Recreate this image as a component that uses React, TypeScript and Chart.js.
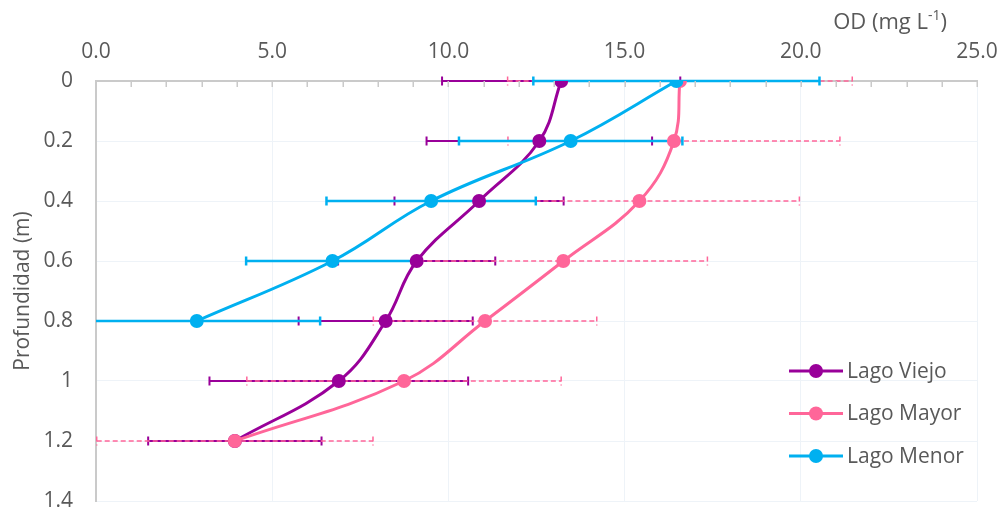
import React, { useEffect, useRef } from 'react';
import { Chart, registerables } from 'chart.js';

Chart.register(...registerables);

// ---- data ----
const depths = [0, 0.2, 0.4, 0.6, 0.8, 1.0, 1.2];
const menorDepths = [0, 0.2, 0.4, 0.6, 0.8];
const seriesNames = ['Lago Viejo', 'Lago Mayor', 'Lago Menor'];
const viejoOD = [13.2, 12.58, 10.87, 9.1, 8.22, 6.89, 3.94];
const viejoErr = [3.38, 3.2, 2.4, 2.23, 2.47, 3.67, 2.46];
const mayorOD = [16.57, 16.4, 15.42, 13.26, 11.04, 8.74, 3.94];
const mayorErr = [4.89, 4.71, 4.54, 4.09, 3.17, 4.46, 3.92];
const menorOD = [16.47, 13.47, 9.51, 6.71, 2.86];
const menorErr = [4.06, 3.17, 2.97, 2.45, 3.5];
const xTitle = 'OD (mg L';
const xTitleSup = '-1';
const xTitleEnd = ')';
const yTitle = 'Profundidad (m)';

// ---- styles ----
const colors = ['#990099', '#FF6699', '#00B0F0'];
const errStyles = [
  { width: 2, dash: [] as number[] },
  { width: 1.5, dash: [5, 3] },
  { width: 2.5, dash: [] as number[] },
];
const FONT = "'Open Sans', sans-serif";
const TEXT = '#595959';
const AXIS = '#CACACA';
const GRID = '#EEF3F8';

const errors = [viejoErr, mayorErr, menorErr];

const errorBarPlugin = {
  id: 'errorBars',
  beforeDatasetsDraw(chart: any) {
    const { ctx, chartArea, scales } = chart;
    ctx.save();
    ctx.beginPath();
    ctx.rect(chartArea.left, chartArea.top - 6, chartArea.right - chartArea.left, chartArea.bottom - chartArea.top + 12);
    ctx.clip();
    chart.data.datasets.forEach((ds: any, i: number) => {
      const errs = errors[i];
      const st = errStyles[i];
      ctx.strokeStyle = ds.borderColor;
      ctx.lineWidth = st.width;
      ctx.setLineDash(st.dash);
      ds.data.forEach((p: any, j: number) => {
        const e = errs[j];
        const y = scales.y.getPixelForValue(p.y);
        const x1 = Math.max(scales.x.getPixelForValue(p.x - e), chartArea.left);
        const x2 = scales.x.getPixelForValue(p.x + e);
        ctx.beginPath();
        ctx.moveTo(x1, y);
        ctx.lineTo(x2, y);
        ctx.stroke();
        [p.x - e, p.x + e].forEach((v) => {
          if (v < 0) return;
          const cx = scales.x.getPixelForValue(v);
          ctx.beginPath();
          ctx.moveTo(cx, y - 4.5);
          ctx.lineTo(cx, y + 4.5);
          ctx.stroke();
        });
      });
    });
    ctx.restore();
  },
};

const axisDecorPlugin = {
  id: 'axisDecor',
  afterDraw(chart: any) {
    const { ctx, chartArea, scales } = chart;
    ctx.save();
    // inward minor ticks on top axis
    ctx.strokeStyle = AXIS;
    ctx.lineWidth = 1.5;
    for (let v = 1; v <= 25; v += 1) {
      const x = Math.round(scales.x.getPixelForValue(v)) + 0.25;
      ctx.beginPath();
      ctx.moveTo(x, chartArea.top);
      ctx.lineTo(x, chartArea.top + 6);
      ctx.stroke();
    }
    // x title with superscript
    ctx.fillStyle = TEXT;
    ctx.textBaseline = 'alphabetic';
    ctx.textAlign = 'left';
    const base = 29;
    ctx.font = `22px ${FONT}`;
    const w1 = ctx.measureText(xTitle).width;
    const w3 = ctx.measureText(xTitleEnd).width;
    ctx.font = `14px ${FONT}`;
    const w2 = ctx.measureText(xTitleSup).width;
    let x = 947 - (w1 + w2 + w3);
    ctx.font = `22px ${FONT}`;
    ctx.fillText(xTitle, x, base);
    x += w1;
    ctx.font = `14px ${FONT}`;
    ctx.fillText(xTitleSup, x, base - 9);
    x += w2;
    ctx.font = `22px ${FONT}`;
    ctx.fillText(xTitleEnd, x, base);
    // legend
    const rows = [371, 413.5, 456];
    chart.data.datasets.forEach((ds: any, i: number) => {
      const y = rows[i];
      ctx.strokeStyle = ds.borderColor;
      ctx.lineWidth = 3;
      ctx.setLineDash([]);
      ctx.beginPath();
      ctx.moveTo(789, y);
      ctx.lineTo(843, y);
      ctx.stroke();
      ctx.fillStyle = ds.borderColor;
      ctx.beginPath();
      ctx.arc(816, y, 7, 0, Math.PI * 2);
      ctx.fill();
      ctx.fillStyle = TEXT;
      ctx.font = `21px ${FONT}`;
      ctx.textAlign = 'left';
      ctx.textBaseline = 'middle';
      ctx.fillText(ds.label, 847, y + 1);
    });
    ctx.restore();
  },
};

export default function App() {
  const ref = useRef<HTMLCanvasElement | null>(null);
  useEffect(() => {
    document.body.style.margin = '0';
    if (!ref.current) return;
    const mk = (xs: number[], ys: number[]) => xs.map((v, i) => ({ x: v, y: ys[i] }));
    const values = [mk(viejoOD, depths), mk(mayorOD, depths), mk(menorOD, menorDepths)];
    const chart = new Chart(ref.current, {
      type: 'line',
      data: {
        datasets: values.map((d, i) => ({
          label: seriesNames[i],
          data: d,
          borderColor: colors[i],
          backgroundColor: colors[i],
          pointBackgroundColor: colors[i],
          pointBorderWidth: 0,
          pointRadius: 7,
          borderWidth: 3,
          tension: 0.4,
          fill: false,
          order: 3 - i,
        })),
      },
      plugins: [errorBarPlugin, axisDecorPlugin],
      options: {
        animation: false,
        responsive: false,
        devicePixelRatio: 1,
        parsing: false as any,
        layout: { padding: { left: 0, right: 26, top: 0, bottom: 11 } },
        plugins: {
          legend: { display: false },
          tooltip: { enabled: false },
        },
        scales: {
          x: {
            type: 'linear',
            position: 'top',
            min: 0,
            max: 25,
            ticks: {
              stepSize: 5,
              padding: 16,
              color: TEXT,
              font: { family: FONT, size: 21 },
              callback: (v: any) => Number(v).toFixed(1),
            },
            grid: { color: GRID, lineWidth: 1, drawTicks: false },
            border: { display: true, color: AXIS, width: 2 },
            afterFit: (s: any) => {
              s.height = 81;
              s.paddingLeft = 0;
              s.paddingRight = 0;
            },
          },
          y: {
            type: 'linear',
            reverse: true,
            min: 0,
            max: 1.4,
            ticks: {
              stepSize: 0.2,
              padding: 23,
              color: TEXT,
              font: { family: FONT, size: 21 },
              callback: (v: any) => String(Number(Number(v).toFixed(1))),
            },
            title: {
              display: true,
              text: yTitle,
              color: TEXT,
              font: { family: FONT, size: 21 },
              padding: { top: 10, bottom: 0 },
            },
            grid: { color: GRID, lineWidth: 1, drawTicks: false },
            border: { display: true, color: AXIS, width: 2 },
            afterFit: (s: any) => {
              s.width = 96;
              s.paddingTop = 0;
              s.paddingBottom = 0;
            },
          },
        },
      } as any,
    });
    return () => chart.destroy();
  }, []);
  return (
    <div style={{ position: 'absolute', left: 0, top: 0, width: 1003, height: 512, background: '#fff' }}>
      <canvas ref={ref} width={1003} height={512} />
    </div>
  );
}
